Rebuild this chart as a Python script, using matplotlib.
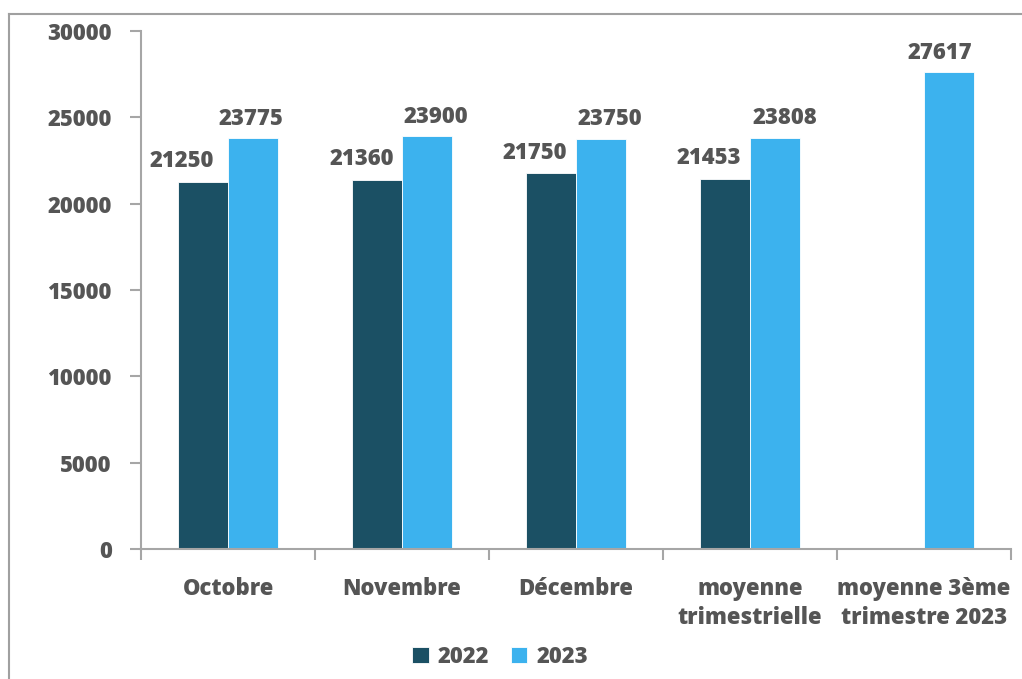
import matplotlib
matplotlib.use("Agg")
import matplotlib.pyplot as plt
import numpy as np
from matplotlib.lines import Line2D

categories = ["Octobre", "Novembre", "Décembre", "moyenne\ntrimestrielle", "moyenne 3ème\ntrimestre 2023"]
values_2022 = [21250, 21360, 21750, 21453, None]
values_2023 = [23775, 23900, 23750, 23808, 27617]
series_names = ["2022", "2023"]
yticks = [0, 5000, 10000, 15000, 20000, 25000, 30000]

# label horizontal nudges in pixels (layout only)
nudge_2022 = [-21, -15, -16, -16, 0]
nudge_2023 = [-2, 9, 9, 10, -9]

c2022 = "#1B5064"
c2023 = "#3CB2EE"
txt = "#555555"
axc = "#A6A6A6"

plt.rcParams['font.family'] = ['Open Sans', 'DejaVu Sans']
fs = 15.8
fw = "heavy"

fig = plt.figure(figsize=(10.22, 6.79), dpi=100)
ax = fig.add_axes([141/1022, 1-549/679, (1011-141)/1022, (549-31)/679])

x = np.arange(len(categories))
w = 0.285
v22 = [np.nan if v is None else v for v in values_2022]
b1 = ax.bar(x - w/2, v22, w, color=c2022, edgecolor="white", linewidth=0.6, label=series_names[0])
b2 = ax.bar(x + w/2, values_2023, w, color=c2023, edgecolor="white", linewidth=0.6, label=series_names[1])

for i, v in enumerate(values_2022):
    if v is not None:
        ax.annotate(str(v), (x[i] - w/2, v), xytext=(nudge_2022[i]*0.72, 15), textcoords="offset points",
                    ha="center", va="center", fontsize=fs, fontweight=fw, color=txt)
for i, v in enumerate(values_2023):
    ax.annotate(str(v), (x[i] + w/2, v), xytext=(nudge_2023[i]*0.72, 14), textcoords="offset points",
                ha="center", va="center", fontsize=fs, fontweight=fw, color=txt)

ax.set_xlim(-0.5, len(categories) - 0.5)
ax.set_ylim(0, 30000)
ax.set_yticks(yticks)
ax.set_yticklabels([str(t) for t in yticks])
ax.set_xticks(x)
ax.set_xticklabels(categories, linespacing=1.3)
ax.set_xticks(np.arange(len(categories) + 1) - 0.5, minor=True)
ax.tick_params(axis="x", which="major", length=0, pad=20, labelsize=fs, labelcolor=txt)
ax.tick_params(axis="x", which="minor", length=8, width=1.5, color=axc, direction="out")
ax.tick_params(axis="y", length=8, width=1.5, color=axc, pad=13, labelsize=fs, labelcolor=txt)
for lab in ax.get_xticklabels() + ax.get_yticklabels():
    lab.set_fontweight(fw)

for s in ["top", "right"]:
    ax.spines[s].set_visible(False)
for s in ["left", "bottom"]:
    ax.spines[s].set_color(axc)
    ax.spines[s].set_linewidth(1.5)

leg = fig.legend(handles=[b1, b2], labels=series_names, loc="center", bbox_to_anchor=(500/1022, 1-657/679),
                 ncol=2, frameon=False, fontsize=fs, handlelength=0.75, handleheight=0.75,
                 handletextpad=0.4, columnspacing=1.0)
for t in leg.get_texts():
    t.set_fontweight(fw)
    t.set_color(txt)

# outer frame (cropped on right/bottom)
fig.add_artist(Line2D([9/1022, 1.0], [1-14/679, 1-14/679], transform=fig.transFigure, color="#A0A0A0", linewidth=1.5))
fig.add_artist(Line2D([9/1022, 9/1022], [0, 1-14/679], transform=fig.transFigure, color="#A0A0A0", linewidth=1.5))

fig.savefig("out.png", dpi=100)
